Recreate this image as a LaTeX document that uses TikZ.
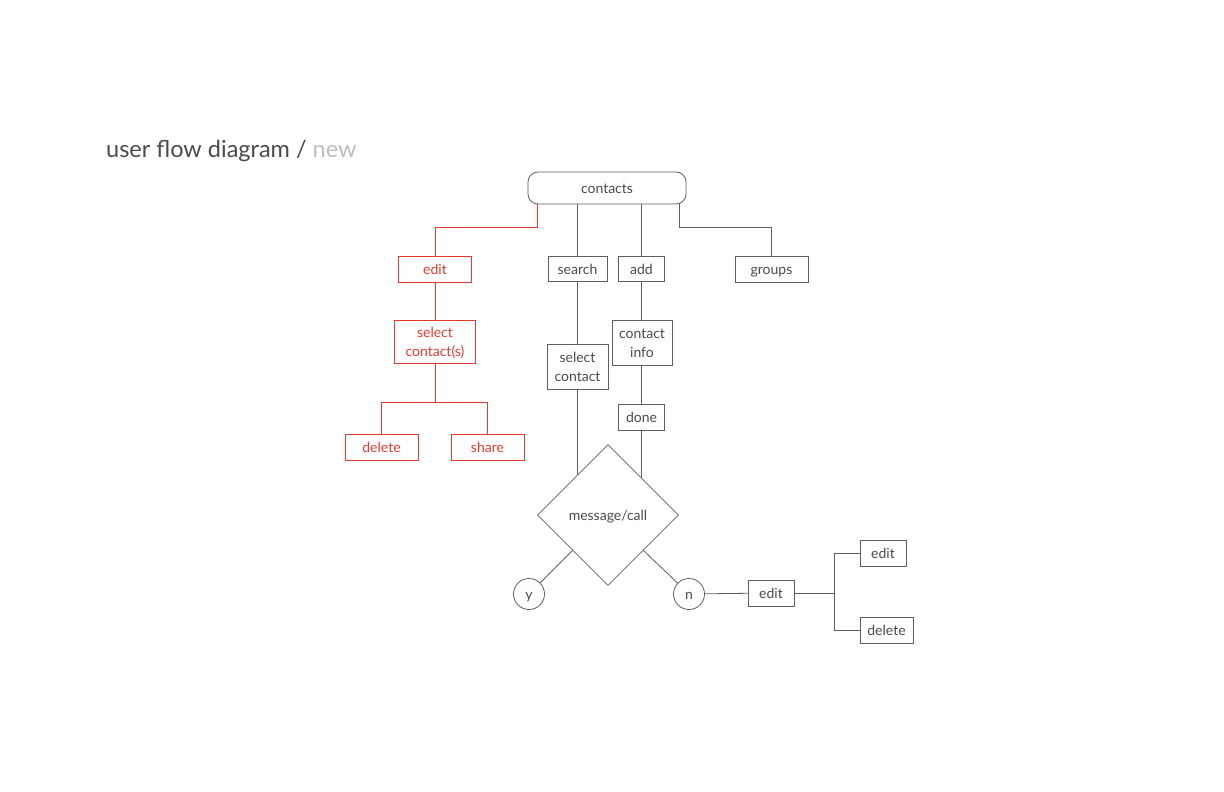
\documentclass[tikz,border=0pt]{standalone}
\usepackage{fontspec}
\setmainfont{Lato}
\usetikzlibrary{shapes.geometric}
\definecolor{inkgray}{HTML}{4A4A4A}
\definecolor{linegray}{HTML}{5E5E5E}
\definecolor{palegray}{HTML}{BDBDBD}
\definecolor{flowred}{HTML}{E8392E}

\tikzset{
  box/.style={draw=linegray, line width=0.8pt, text=inkgray, inner sep=0pt,
    font=\fontsize{14}{19}\selectfont, align=center},
  oneline/.style={text height=12pt, text depth=1pt},
  twoline/.style={text height=32pt, text depth=2pt},
  redbox/.style={box, draw=flowred, text=flowred},
  startbox/.style={box, rounded corners=10pt},
  choice/.style={diamond, draw=linegray, line width=0.8pt, text=inkgray,
    inner sep=0pt, minimum width=141pt, minimum height=141pt,
    font=\fontsize{14}{19}\selectfont},
  endpoint/.style={circle, draw=linegray, line width=0.8pt, text=inkgray,
    inner sep=0pt, minimum size=31pt, font=\fontsize{14}{19}\selectfont},
  link/.style={linegray, line width=0.8pt},
  redlink/.style={flowred, line width=0.8pt}
}

\begin{document}
\begin{tikzpicture}[x=1pt, y=-1pt]

% Canvas
\useasboundingbox (0,0) rectangle (1224,792);

% Title
\node[anchor=base west, inner sep=0pt, text=inkgray, font=\fontsize{23.5}{28}\selectfont]
  (title) at (106,157) {user flow diagram / \textcolor{palegray}{new}};

% Top level
\node[startbox, oneline, minimum width=158pt, minimum height=32pt] (contacts) at (607,188) {contacts};

\node[redbox, oneline, minimum width=73pt, minimum height=26pt] (edit) at (435,269) {edit};
\node[box, oneline, minimum width=59pt, minimum height=25pt] (search) at (577.5,268.5) {search};
\node[box, oneline, minimum width=46pt, minimum height=25pt] (add) at (641.5,268.5) {add};
\node[box, oneline, minimum width=73pt, minimum height=26pt] (groups) at (771.5,269) {groups};

% Edit branch
\node[redbox, twoline, minimum width=81pt, minimum height=43pt] (selcontacts) at (435,341.5) {select\\contact(s)};
\node[redbox, oneline, minimum width=73pt, minimum height=26pt] (delete) at (381.5,447) {delete};
\node[redbox, oneline, minimum width=73pt, minimum height=26pt] (share) at (487.5,447) {share};

% Search / add branches
\node[box, twoline, minimum width=61pt, minimum height=45pt] (selcontact) at (577.5,366.5) {select\\contact};
\node[box, twoline, minimum width=60pt, minimum height=45pt] (contactinfo) at (642,342.5) {contact\\info};
\node[box, oneline, minimum width=46pt, minimum height=26pt] (done) at (641.5,417) {done};

% Decision
\node[choice, oneline] (msgcall) at (608,515) {message/call};
\node[endpoint, oneline] (yes) at (529,594) {y};
\node[endpoint, oneline] (no) at (689,594) {n};

\node[box, oneline, minimum width=46pt, minimum height=26pt] (noedit) at (771,593) {edit};
\node[box, oneline, minimum width=46pt, minimum height=26pt] (editagain) at (883,553) {edit};
\node[box, oneline, minimum width=53pt, minimum height=26pt] (deleteagain) at (886.5,630) {delete};

% Connectors from contacts
\draw[redlink] ([xshift=10pt]contacts.south west) -- ++(0,23) -| (edit.north);
\draw[link] (search.north) -- (search.north |- contacts.south);
\draw[link] (add.north) -- (add.north |- contacts.south);
\draw[link] ([xshift=-7pt]contacts.south east) -- ++(0,23) -| (groups.north);

% Edit branch connectors
\draw[redlink] (edit.south) -- (selcontacts.north);
\draw[redlink] (selcontacts.south) -- ++(0,39) coordinate (redfork);
\draw[redlink] (delete.north) |- (redfork) -| (share.north);

% Search / add connectors
\draw[link] (search.south) -- (selcontact.north);
\draw[link] (selcontact.south) --
  (intersection of selcontact.south--selcontact.north and msgcall.north--msgcall.west);
\draw[link] (add.south) -- (add.south |- contactinfo.north);
\draw[link] (contactinfo.south -| done.north) -- (done.north);
\draw[link] (done.south) --
  (intersection of done.south--done.north and msgcall.north--msgcall.east);

% Decision connectors
\draw[link] (msgcall.south west) -- (yes);
\draw[link] (msgcall.south east) -- (no);
\draw[link] (no) -- (noedit);
\draw[link] (noedit.east) -- ++(40,0) coordinate (fork);
\draw[link] (editagain.west) -| (fork) |- (deleteagain.west);

\end{tikzpicture}
\end{document}
